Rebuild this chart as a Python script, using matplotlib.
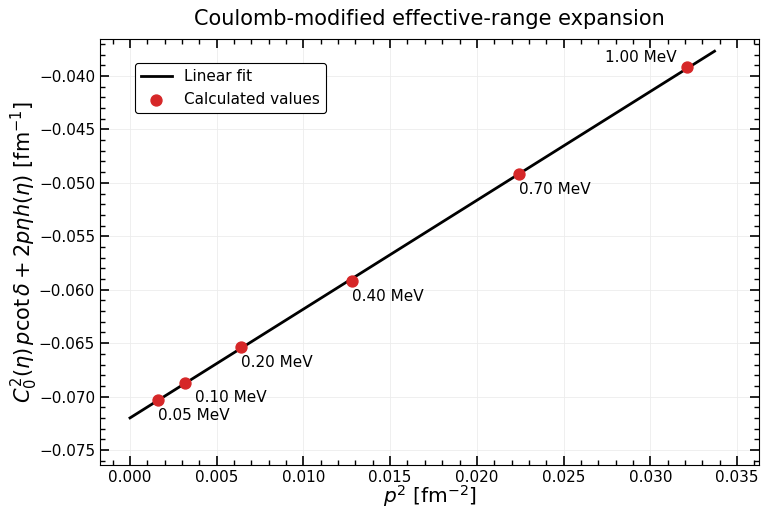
import numpy as np
import matplotlib
matplotlib.use("Agg")
import matplotlib.pyplot as plt
from matplotlib.ticker import AutoMinorLocator

# Energies (MeV) and values
energies = [0.05, 0.10, 0.20, 0.40, 0.70, 1.00]
p2 = np.array([0.0016, 0.0032, 0.0064, 0.0128, 0.02245, 0.0321])
kfun = np.array([-0.0703, -0.0687, -0.0654, -0.0592, -0.0492, -0.0392])
labels = [f"{e:.2f} MeV" for e in energies]
# label offsets in points (dx, dy), text alignment
offsets = [(0, -11, "left"), (6.5, -11, "left"), (0, -11, "left"),
           (0, -11, "left"), (0, -11, "left"), (-7, 7, "right")]

slope, icpt = np.polyfit(p2, kfun, 1)
xfit = np.linspace(0, 1.05 * p2.max(), 200)

fig, ax = plt.subplots(figsize=(7.61, 5.12), dpi=100)
ax.plot(xfit, slope * xfit + icpt, color="black", lw=2, label="Linear fit", zorder=2)
ax.scatter(p2, kfun, s=62, color="#d62728", zorder=3, label="Calculated values")

for x, y, lab, (dx, dy, ha) in zip(p2, kfun, labels, offsets):
    ax.annotate(lab, (x, y), xytext=(dx, dy), textcoords="offset points",
                ha=ha, va="center", fontsize=11)

ax.set_xlim(-0.00173, 0.03627)
ax.set_ylim(-0.0764, -0.03654)
ax.set_xticks(np.arange(0, 0.0351, 0.005))
ax.set_yticks(np.arange(-0.075, -0.0399, 0.005))
ax.xaxis.set_minor_locator(AutoMinorLocator(5))
ax.yaxis.set_minor_locator(AutoMinorLocator(5))
ax.tick_params(which="both", direction="in", top=True, right=True, labelsize=11)
ax.tick_params(which="major", length=6.5, width=1.2)
ax.tick_params(which="minor", length=3.5, width=1)
ax.grid(True, color="#ececec", lw=0.6)
ax.set_axisbelow(True)

ax.set_xlabel(r"$p^2\ [\mathrm{fm}^{-2}]$", fontsize=14.5, labelpad=-1)
ax.set_ylabel(r"$C_0^2(\eta)\,p\cot\delta + 2p\eta h(\eta)\ [\mathrm{fm}^{-1}]$",
              fontsize=15, labelpad=-1)
ax.set_title("Coulomb-modified effective-range expansion", fontsize=15, pad=10)

leg = ax.legend(loc="upper left", bbox_to_anchor=(0.0416, 0.961), fontsize=11,
                fancybox=True, framealpha=1, edgecolor="black")
leg.get_frame().set_linewidth(0.8)

fig.subplots_adjust(left=0.1314, right=0.9974, top=0.9238, bottom=0.0918)
fig.savefig("out.png", dpi=100)
